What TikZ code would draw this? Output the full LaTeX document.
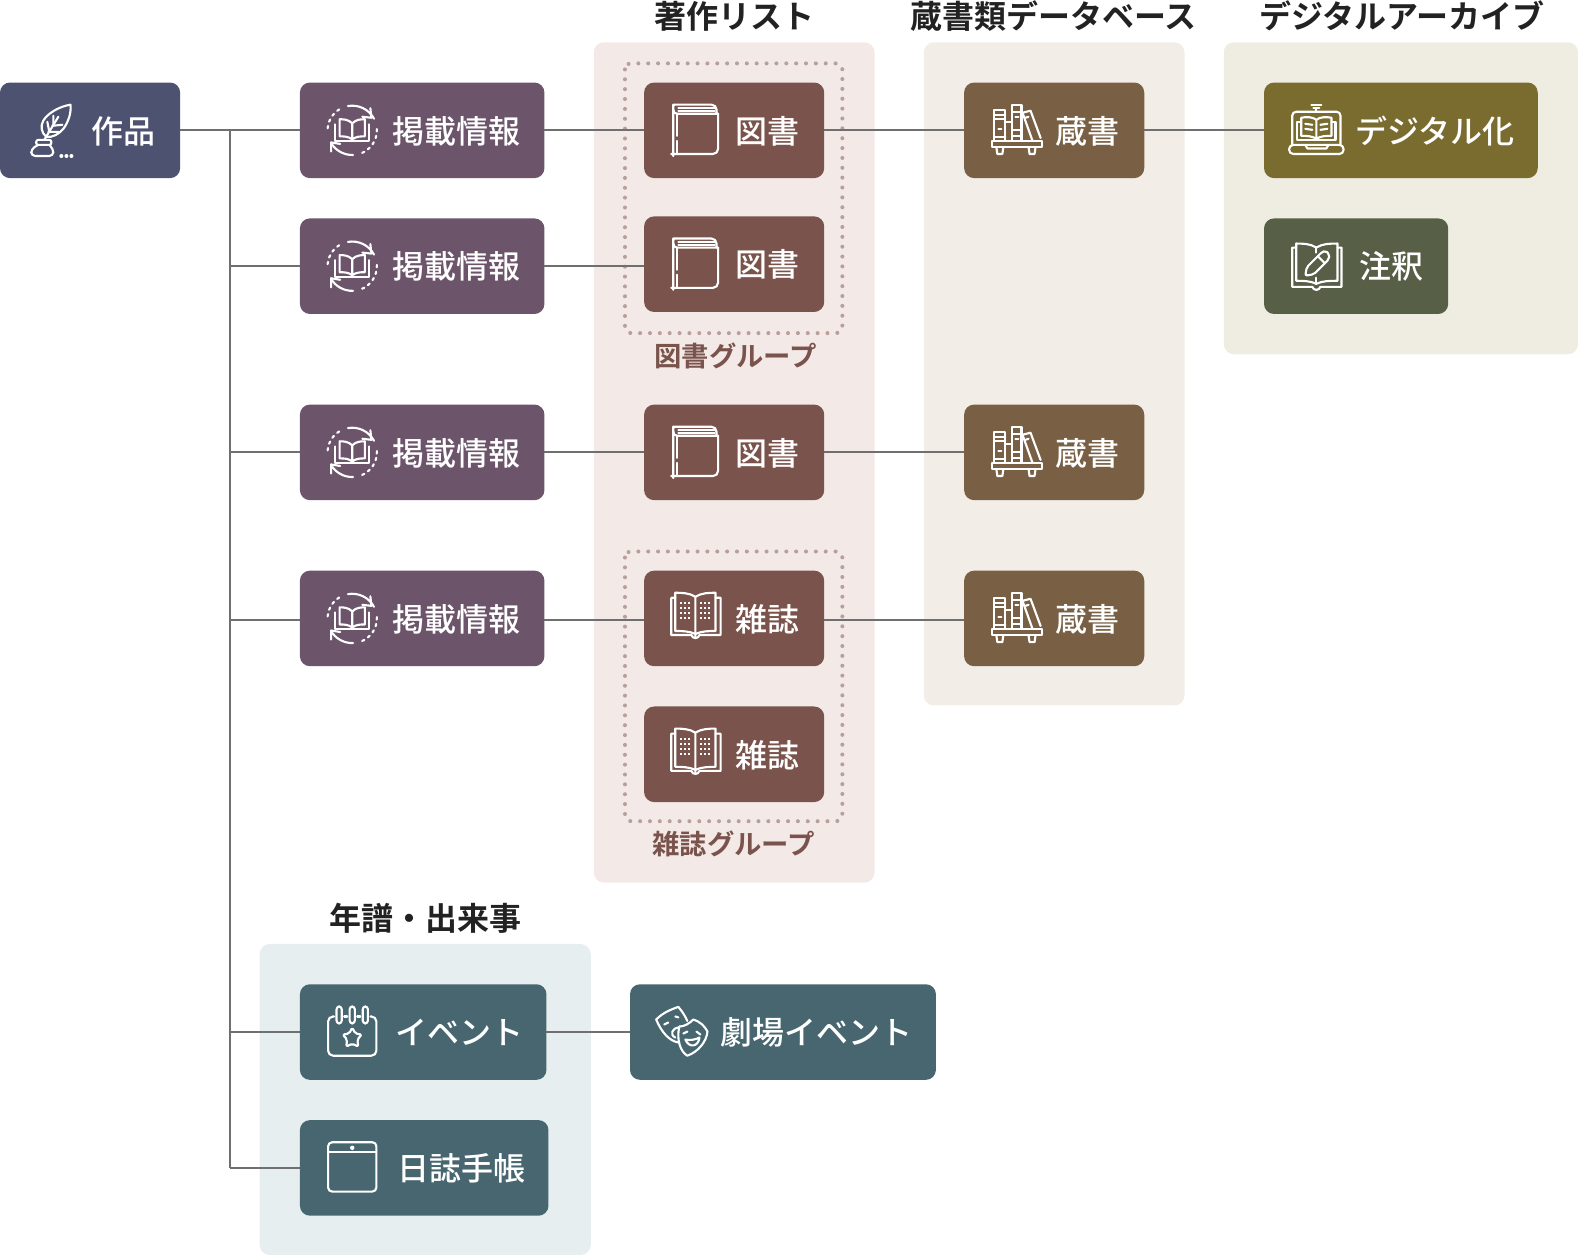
\documentclass[tikz,border=0pt]{standalone}
\usepackage{fontspec}
\setmainfont{Noto Sans CJK JP Medium}
\newfontfamily\jpbold{Noto Sans CJK JP Bold}
\definecolor{cRoot}{HTML}{4D5270}
\definecolor{cPub}{HTML}{6C556B}
\definecolor{cBook}{HTML}{7A544C}
\definecolor{cHold}{HTML}{796045}
\definecolor{cDig}{HTML}{7A6C2F}
\definecolor{cNote}{HTML}{575F47}
\definecolor{cEvt}{HTML}{47666F}
\definecolor{pBook}{HTML}{F3E9E7}
\definecolor{pHold}{HTML}{F2EDE7}
\definecolor{pDig}{HTML}{EFEDE2}
\definecolor{pEvt}{HTML}{E6EEF0}
\definecolor{cLine}{HTML}{6F6F6F}
\definecolor{cDot}{HTML}{B89F9B}
\definecolor{cTitle}{HTML}{222222}
\tikzset{
  kbox/.style 2 args={draw=none,fill=#1,minimum width=#2,minimum height=47.5pt,rounded corners=5pt,inner sep=0pt,outer sep=0pt},
  ktext/.style={text=white,inner sep=0pt,text height=14.7pt,text depth=2pt,font=\fontsize{15.9pt}{18pt}\selectfont},
  ttl/.style={text=cTitle,inner sep=0pt,text height=14.7pt,text depth=2pt,font=\fontsize{15.9pt}{18pt}\selectfont\jpbold},
  grp/.style={text=cBook,inner sep=0pt,text height=13pt,text depth=1.7pt,font=\fontsize{13.6pt}{16pt}\selectfont\jpbold},
  dotframe/.style={draw=cDot,line width=2pt,line cap=round,dash pattern=on 0pt off 4.9pt,rounded corners=3pt},
  conn/.style={draw=cLine,line width=1pt},
  ic/.style={draw=white,line width=1.05pt,line join=round,line cap=round},
  icd/.style={draw=white,line width=1.05pt,line cap=round,dash pattern=on 1.2pt off 2.2pt},
  pics/iquill/.style={code={
    \draw[ic] (-4,6) .. controls (-9,2) and (-10,-5) .. (-7,-10) .. controls (-3,-17) and (8,-24) .. (20,-26) .. controls (21,-18) and (18,-9) .. (13,-2) .. controls (9,3) and (2,7) .. (-4,6);
    \draw[ic] (-6,9) -- (8,-14);
    \draw[ic] (-1,1) -- (-3,-9) (3,-6) -- (3,-15) (2,-5) -- (12,-6) (-2,1) -- (8,1);
    \draw[ic,rounded corners=1pt] (-14,9) rectangle (1,14);
    \draw[ic,rounded corners=2pt] (-12,14) -- (-19,18) -- (-19,25) -- (3,25) -- (3,18) -- (-1,14);
    \fill[white] (11,25) circle (1pt) (16,25) circle (1pt) (21,25) circle (1pt);
  }},
  pics/ireload/.style={code={
    \draw[ic] (-100:24.5) arc (-100:-28:24.5);
    \draw[ic] (18,-22) -- (19,-12.5) -- (10,-13.5);
    \draw[ic] (88:24.5) arc (88:150:24.5);
    \draw[ic] (-21,21) -- (-21,12) -- (-12,13.5);
    \draw[icd] (-122:24.5) arc (-122:-182:24.5);
    \draw[icd] (-3:24.5) arc (-3:72:24.5);
    \draw[ic] (0,-7) .. controls (-4,-11) and (-9,-11) .. (-12.5,-11) -- (-12.5,6) .. controls (-8,6) and (-4,6) .. (0,9) .. controls (4,6) and (8,6) .. (12.5,6) -- (12.5,-11) .. controls (9,-11) and (4,-11) .. (0,-7) -- (0,9);
    \draw[ic] (-17,-6) -- (-17,10.5) -- (17,10.5) -- (17,-6);
  }},
  pics/ibook/.style={code={
    \draw[ic,rounded corners=2.5pt] (22.5,-16) -- (22.5,24) -- (-19,24) .. controls (-21,24) and (-22,23) .. (-22,21) -- (-22,-20) .. controls (-22,-23) and (-20,-25) .. (-17,-25) -- (21,-25) -- (21,-16);
    \draw[ic] (-22,-20) .. controls (-22,-17) and (-20,-16) .. (-18,-16) -- (22.5,-16);
    \draw[ic] (-17,-21.5) -- (19,-21.5) (-17,-18.5) -- (19,-18.5);
    \draw[ic] (-18,-16) -- (-18,6) (-18,11) -- (-18,24);
  }},
  pics/ishelf/.style={code={
    \draw[ic] (-22,11) -- (-22,-20) -- (-11,-20) -- (-11,11);
    \draw[ic] (-22,-15) -- (-11,-15) (-22,-11) -- (-11,-11) (-22,7) -- (-11,7) (-18,-1) -- (-15,-1);
    \draw[ic] (-11,-8) -- (-4,-8) -- (-4,11);
    \draw[ic] (-4,-8) -- (-4,-25) -- (5,-25) -- (5,11);
    \draw[ic] (-4,-18) -- (5,-18) (-4,0) -- (5,0) (-4,6) -- (5,6) (-1,-13) -- (2,-13);
    \draw[ic] (16,11) -- (6,-17) -- (14,-19) -- (24,8);
    \draw[ic] (9,-12) -- (12,-13);
    \draw[ic] (-24,11) rectangle (25,17);
    \draw[ic] (-20,17) -- (-19,24) -- (-14,24) -- (-13,17);
    \draw[ic] (12,17) -- (13,24) -- (18,24) -- (19,17);
  }},
  pics/ilaptop/.style={code={
    \draw[ic,rounded corners=2pt] (-24,15) -- (-24,-18) -- (24,-18) -- (24,15);
    \draw[ic,rounded corners=2pt] (-27,15) -- (27,15) -- (27,24) -- (-27,24) -- cycle;
    \draw[ic] (-11,15) -- (-9,18.5) -- (10,18.5) -- (12,15);
    \draw[ic] (-5,-25) -- (5,-25) (-3,-22) -- (3,-22) (0,-21) -- (0,-18);
    \draw[ic] (0,-10) .. controls (-4,-13) and (-10,-13) .. (-15,-12) -- (-15,6) .. controls (-10,6) and (-4,6) .. (0,9) .. controls (4,6) and (10,6) .. (15,6) -- (15,-12) .. controls (10,-13) and (4,-13) .. (0,-10) -- (0,9);
    \draw[ic] (-15,-8) -- (-19,-8) -- (-19,10) -- (19,10) -- (19,-8) -- (15,-8);
    \draw[ic] (-11,-6) -- (-4,-5) (-11,-1) -- (-4,0) (4,-5) -- (11,-6) (4,0) -- (11,-1);
  }},
  pics/inote/.style={code={
    \draw[ic] (0,-18) .. controls (-6,-22) and (-14,-22) .. (-20,-22) -- (-20,15) .. controls (-14,15) and (-6,15) .. (0,18) .. controls (6,15) and (14,15) .. (21,15) -- (21,-22) .. controls (14,-22) and (6,-22) .. (0,-18);
    \draw[ic] (0,-18) -- (0,-13) (0,12) -- (0,18);
    \draw[ic] (-20,-18) -- (-24,-18) -- (-24,21) -- (-4,21) .. controls (-3,25) and (3,25) .. (4,21) -- (25,21) -- (25,-18) -- (21,-18);
    \draw[ic,rounded corners=1pt] (-11,10) -- (-9.5,1.5) -- (5.5,-13.5) -- (9,-15) -- (13,-11) -- (12.5,-6.5) -- (-2.5,8.5) -- cycle;
    \draw[ic] (1.5,-9.5) -- (8.5,-2.5);
  }},
  pics/imag/.style={code={
    \draw[ic] (0,-21) .. controls (-6,-25) and (-14,-25) .. (-20,-25) -- (-20,13) .. controls (-14,13) and (-6,13) .. (0,16) .. controls (6,13) and (14,13) .. (20,13) -- (20,-25) .. controls (14,-25) and (6,-25) .. (0,-21) -- (0,20);
    \draw[ic] (-20,-20) -- (-24,-20) -- (-24,17) -- (-4,17) .. controls (-3,21) and (3,21) .. (4,17) -- (25,17) -- (25,-20) -- (20,-20);
    \foreach \r in {-15,-10,-5,0}{
      \draw[draw=white,line width=0.9pt,dash pattern=on 0.9pt off 1.1pt] (-15,\r) -- (-4,\r) (5,\r) -- (16,\r);
    }
  }},
  pics/icalendar/.style={code={
    \draw[ic,rounded corners=2.5pt] (-18,-15) -- (-24,-15) -- (-24,24) -- (24,24) -- (24,-15) -- (18,-15);
    \draw[ic] (-8,-15) -- (-5,-15) (5,-15) -- (8,-15);
    \foreach \c in {-13,0,13}{ \draw[ic,rounded corners=1.5pt] (\c-2.6,-25) rectangle (\c+2.6,-8); }
    \draw[ic,rounded corners=1pt] (0,-4) -- (3,2) -- (9.5,3) -- (5,8) -- (6,15) -- (0,12) -- (-6,15) -- (-5,8) -- (-9.5,3) -- (-3,2) -- cycle;
  }},
  pics/itablet/.style={code={
    \draw[ic,rounded corners=2pt] (-24,-25) rectangle (24,24);
    \draw[ic] (-24,-15) -- (24,-15);
    \fill[white] (0,-19.5) circle (1.1pt);
  }},
  pics/imasks/.style={code={
    \draw[ic] (-2,11) .. controls (-12,10) and (-20,0) .. (-25,-12) .. controls (-18,-19) and (-10,-22) .. (-3,-24.5) .. controls (1,-20) and (4,-15) .. (6,-10.5);
    \draw[ic] (-2,-5) .. controls (3,-5) and (8,-8) .. (12,-12) .. controls (18,-10) and (23,-6) .. (26,0) .. controls (25,10) and (17,20) .. (6,24) .. controls (-1,20) and (-5,8) .. (-2,-5);
    \draw[ic] (-17,-7) -- (-13,-9) (-6,-15) -- (-3,-14);
    \draw[ic] (2,2) -- (6,0) (15,0) -- (19,3);
    \draw[ic] (4,8) .. controls (9,9) and (14,8) .. (18,6) .. controls (17,15) and (8,17) .. (4,8);
    \draw[ic] (-2,-4) .. controls (-9,-4) and (-12,3) .. (-6,6);
  }},
}
\begin{document}
\begin{tikzpicture}[x=0.5pt,y=-0.5pt]
\useasboundingbox (0,0) rectangle (1568,1248);
% panels
\fill[pBook,rounded corners=5pt] (590,42) rectangle (869,877);
\fill[pHold,rounded corners=5pt] (918,42) rectangle (1177,701);
\fill[pDig,rounded corners=5pt] (1216,42) rectangle (1568,352);
\fill[pEvt,rounded corners=5pt] (258,938) rectangle (587,1247);
% dotted groups
\draw[dotframe] (621,63) rectangle (837,331);
\draw[dotframe] (621,548) rectangle (837,816);
% boxes
\node[kbox={cRoot}{89.5pt}] (root) at (89.5,129.5) {};
\node[kbox={cPub}{121.5pt}] (p1) at (419.5,129.5) {};
\node[kbox={cPub}{121.5pt}] (p2) at (419.5,264.5) {};
\node[kbox={cPub}{121.5pt}] (p3) at (419.5,449.5) {};
\node[kbox={cPub}{121.5pt}] (p4) at (419.5,614.5) {};
\node[kbox={cBook}{89.5pt}] (b1) at (729.5,129.5) {};
\node[kbox={cBook}{89.5pt}] (b2) at (729.5,262.5) {};
\node[kbox={cBook}{89.5pt}] (b3) at (729.5,449.5) {};
\node[kbox={cBook}{89.5pt}] (m1) at (729.5,614.5) {};
\node[kbox={cBook}{89.5pt}] (m2) at (729.5,749.5) {};
\node[kbox={cHold}{89.5pt}] (h1) at (1047.5,129.5) {};
\node[kbox={cHold}{89.5pt}] (h2) at (1047.5,449.5) {};
\node[kbox={cHold}{89.5pt}] (h3) at (1047.5,614.5) {};
\node[kbox={cDig}{136pt}] (d1) at (1392,129.5) {};
\node[kbox={cNote}{91.5pt}] (n1) at (1347.5,264.5) {};
\node[kbox={cEvt}{122.5pt}] (e1) at (420.5,1025.5) {};
\node[kbox={cEvt}{123.5pt}] (e2) at (421.5,1160.5) {};
\node[kbox={cEvt}{152pt}] (e3) at (778,1025.5) {};
% labels
\node[ktext] (troot) at (123,129.5) {作品};
\foreach \n/\y in {1/129.5,2/264.5,3/449.5,4/614.5}{
  \node[ktext] (tp\n) at (453.5,\y) {掲載情報};
  \pic at (350,\y) {ireload};
}
\node[ktext] (tb1) at (763,129.5) {図書};
\node[ktext] (tb2) at (763,262.5) {図書};
\node[ktext] (tb3) at (763,449.5) {図書};
\node[ktext] (tm1) at (763,614.5) {雑誌};
\node[ktext] (tm2) at (763,749.5) {雑誌};
\node[ktext] (th1) at (1081,129.5) {蔵書};
\node[ktext] (th2) at (1081,449.5) {蔵書};
\node[ktext] (th3) at (1081,614.5) {蔵書};
\node[ktext] (td1) at (1426,129.5) {デジタル化};
\node[ktext] (tn1) at (1383,264.5) {注釈};
\node[ktext] (te1) at (457,1025.5) {イベント};
\node[ktext] (te2) at (458.5,1160.5) {日誌手帳};
\node[ktext] (te3) at (811,1025.5) {劇場イベント};
% titles
\node[ttl] (t1) at (730,16) {著作リスト};
\node[ttl] (t2) at (1047,16) {蔵書類データベース};
\node[ttl] (t3) at (1393,16) {デジタルアーカイブ};
\node[ttl] (t4) at (423,912) {年譜・出来事};
\node[grp] (g1) at (731,353) {図書グループ};
\node[grp] (g2) at (729,838) {雑誌グループ};
% icons
\pic at (50,130) {iquill};
\pic at (691,129) {ibook};
\pic at (691,262) {ibook};
\pic at (691,449) {ibook};
\pic at (691,614) {imag};
\pic at (691,749) {imag};
\pic at (1010,129) {ishelf};
\pic at (1010,449) {ishelf};
\pic at (1010,614) {ishelf};
\pic at (1308,129) {ilaptop};
\pic at (1308,264) {inote};
\pic at (350,1025) {icalendar};
\pic at (350,1160) {itablet};
\pic at (677,1025) {imasks};
% connectors
\coordinate (jtop) at (229,129.5);
\coordinate (jbot) at (229,1160.5);
\draw[conn] (root.east) -- (p1.west);
\draw[conn] (jtop) -- (jbot);
\draw[conn] (jtop |- p2.west) -- (p2.west);
\draw[conn] (jtop |- p3.west) -- (p3.west);
\draw[conn] ([yshift=-0.75pt]jtop |- p4.west) -- ([yshift=-0.75pt]p4.west);
\draw[conn] (jtop |- e1.west) -- (e1.west);
\draw[conn] (jbot) -- (e2.west);
\draw[conn] (p1.east) -- (b1.west);
\draw[conn] (p2.east) -- (p2.east -| b2.west);
\draw[conn] (p3.east) -- (b3.west);
\draw[conn] ([yshift=-0.75pt]p4.east) -- ([yshift=-0.75pt]m1.west);
\draw[conn] (b1.east) -- (h1.west);
\draw[conn] (b3.east) -- (h2.west);
\draw[conn] ([yshift=-0.75pt]m1.east) -- ([yshift=-0.75pt]h3.west);
\draw[conn] (h1.east) -- (d1.west);
\draw[conn] (e1.east) -- (e3.west);
\end{tikzpicture}
\end{document}
